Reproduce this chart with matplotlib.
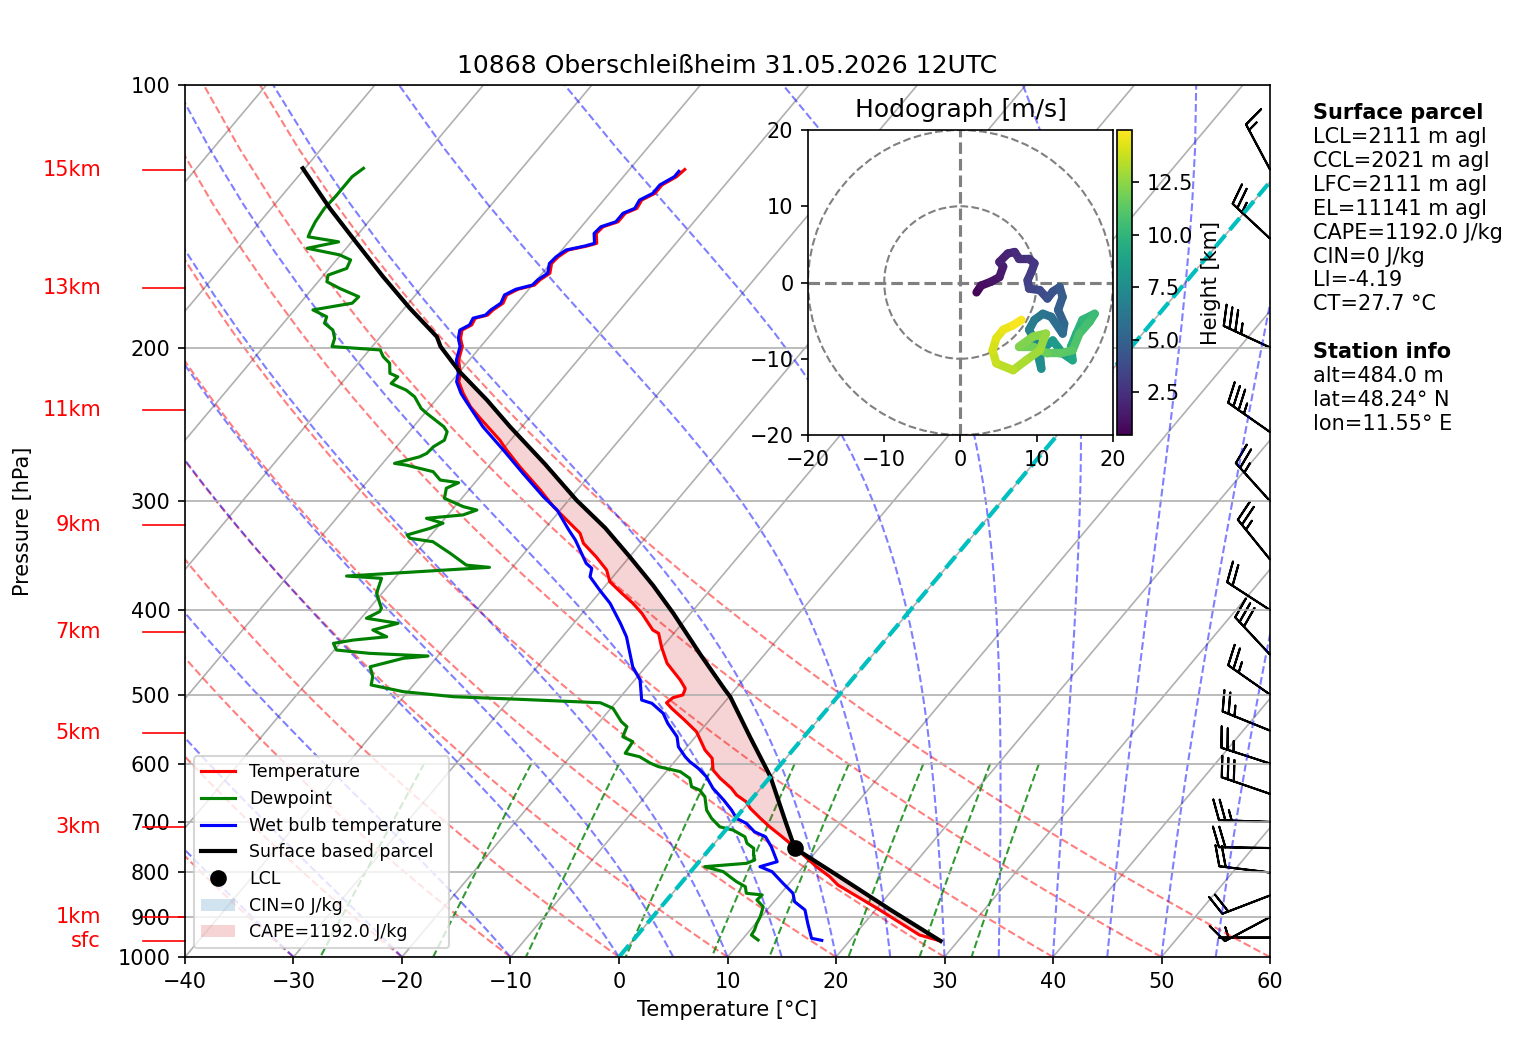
import numpy as np
import matplotlib
matplotlib.use("Agg")
import matplotlib.pyplot as plt
from matplotlib.transforms import Affine2D, blended_transform_factory
from matplotlib.ticker import MultipleLocator, ScalarFormatter, NullLocator
from matplotlib.collections import LineCollection
from matplotlib.patches import Patch, Circle

# sounding, surface -> top (hPa, degC)
temp_p = [958.6, 943.6, 883.2, 826.8, 808.9, 787.8, 763.9, 744.1, 724.7, 709.0,
          693.4, 675.4, 663.7, 652.0, 640.5, 623.9, 610.4, 591.7, 578.9, 563.8,
          551.6, 534.9, 518.6, 511.0, 504.2, 500.6, 494.0, 491.9, 481.2, 460.5,
          440.8, 425.5, 421.7, 403.5, 393.0, 382.7, 371.2, 359.9, 347.5, 335.4,
          326.6, 318.1, 304.5, 291.4, 274.0, 262.2, 255.4, 241.1, 233.8, 225.7,
          218.9, 214.1, 206.7, 199.5, 195.2, 191.0, 188.4, 185.1, 183.6, 181.1,
          177.9, 174.1, 171.5, 169.6, 167.3, 164.4, 160.2, 157.4, 154.6, 153.0,
          151.9, 148.0, 145.4, 143.5, 140.3, 138.5, 135.5, 133.1, 130.2, 127.4, 125.0]
temp_t = [28.4, 26.0, 20.4, 14.6, 13.2, 11.2, 9.1, 7.3, 5.4, 3.8,
          2.3, 0.6, -0.3, -1.7, -2.7, -4.5, -5.8, -6.8, -8.1, -9.3,
          -10.3, -12.3, -14.4, -15.3, -15.1, -14.4, -14.6, -14.7, -15.8, -18.3,
          -20.1, -21.4, -22.2, -24.5, -26.1, -27.9, -29.9, -31.1, -33.1, -35.3,
          -36.4, -38.1, -40.9, -43.4, -47.1, -49.6, -51.0, -54.5, -56.3, -58.0,
          -59.3, -59.8, -61.0, -61.7, -62.5, -63.0, -62.5, -62.7, -61.8, -61.7,
          -61.3, -61.6, -61.0, -59.8, -59.7, -59.3, -59.9, -59.8, -59.4, -58.0,
          -57.3, -58.1, -58.0, -57.0, -57.0, -56.3, -56.5, -55.8, -55.8, -55.1, -54.9]

dewp_p = [956.1, 943.6, 931.2, 915.2, 899.1, 875.7, 860.3, 848.9, 845.1, 830.5,
          819.6, 808.9, 798.2, 787.8, 780.8, 774.0, 763.9, 750.5, 740.7, 728.0,
          715.3, 709.0, 693.4, 678.4, 654.8, 643.4, 637.8, 623.9, 613.0, 604.9,
          599.5, 589.3, 583.9, 566.3, 559.0, 544.3, 537.2, 518.6, 511.0, 506.4,
          502.9, 496.3, 487.6, 477.0, 464.7, 454.4, 451.7, 448.5, 444.6, 436.8,
          433.0, 429.3, 421.7, 414.3, 408.8, 401.7, 398.1, 382.7, 367.9, 365.7,
          357.4, 355.3, 344.4, 334.0, 331.0, 328.1, 322.4, 318.1, 314.0, 311.2,
          307.2, 304.5, 297.8, 290.0, 285.8, 283.8, 277.6, 272.8, 271.6, 266.9,
          264.5, 259.9, 255.4, 249.8, 246.5, 238.0, 234.9, 227.8, 223.8, 219.9,
          216.1, 214.1, 208.5, 204.9, 201.3, 199.5, 195.2, 191.0, 187.6, 184.4,
          181.1, 177.9, 174.9, 171.1, 168.1, 165.2, 162.3, 158.7, 156.6, 153.9,
          151.3, 149.3, 147.3, 143.5, 138.5, 134.3, 130.8, 127.4, 124.6]
dewp_t = [11.5, 10.5, 10.4, 10.1, 9.9, 9.4, 8.3, 8.4, 6.8, 6.2,
          5.0, 4.0, 3.0, 0.9, 4.5, 5.0, 4.5, 4.0, 3.0, 2.3,
          0.7, -0.8, -2.2, -3.3, -4.5, -5.5, -6.5, -7.3, -8.7, -11.1,
          -12.1, -13.6, -15.2, -15.4, -16.7, -17.1, -18.0, -19.8, -21.4, -29.1,
          -35.4, -40.4, -43.9, -44.4, -45.4, -43.0, -40.9, -46.5, -49.8, -50.6,
          -49.0, -46.2, -48.0, -46.2, -49.5, -48.8, -48.9, -50.5, -51.2, -54.6,
          -42.1, -44.4, -46.8, -49.3, -51.7, -52.2, -50.6, -49.8, -51.7, -48.6,
          -47.7, -49.2, -51.6, -52.2, -51.5, -53.4, -54.7, -57.7, -58.9, -57.1,
          -56.7, -56.6, -56.1, -56.5, -57.2, -59.8, -60.7, -62.2, -63.5, -65.4,
          -65.3, -66.3, -67.1, -68.2, -69.0, -73.7, -74.1, -74.9, -76.2, -76.5,
          -78.3, -75.2, -75.1, -77.5, -79.2, -79.6, -78.4, -78.7, -80.1, -83.6,
          -81.2, -84.4, -84.6, -84.9, -85.1, -85.0, -85.0, -85.0, -84.6]

wetb_p = [957.0, 951.8, 915.2, 883.2, 864.1, 845.1, 823.0, 798.2, 787.8, 777.5,
          747.3, 728.0, 718.5, 702.7, 693.4, 678.4, 660.7, 640.5, 621.2, 607.6,
          597.0, 589.3, 574.0, 559.0, 539.5, 525.4, 511.8, 507.4, 481.2, 464.7,
          448.5, 429.3, 414.3, 393.0, 379.4, 366.4, 358.3, 353.6, 332.5, 323.7,
          307.2, 296.6, 278.8, 262.2, 246.5, 229.7, 225.7, 218.9, 214.1, 206.7,
          199.5, 195.2, 191.0, 188.4, 185.1, 183.6, 181.1, 177.9, 174.1, 171.5,
          169.6, 167.3, 164.4, 160.2, 157.4, 154.6, 153.0, 151.9, 148.0, 145.4,
          143.5, 140.3, 138.5, 135.5, 133.1, 130.2, 127.4, 125.6]
wetb_t = [17.4, 16.3, 14.8, 13.5, 11.9, 11.1, 9.4, 7.5, 6.0, 7.2,
          5.5, 4.2, 2.8, 1.4, 0.1, -1.0, -2.5, -4.4, -5.9, -7.3,
          -8.6, -9.4, -10.8, -11.7, -13.6, -14.8, -16.6, -17.8, -19.5, -21.2,
          -22.5, -24.1, -25.7, -28.2, -30.2, -32.1, -32.6, -33.5, -36.3, -37.7,
          -40.3, -42.6, -46.3, -49.9, -53.6, -57.3, -58.2, -59.5, -60.0, -61.2,
          -61.9, -62.7, -63.2, -62.7, -62.9, -62.0, -61.9, -61.5, -61.8, -61.2,
          -60.0, -59.9, -59.5, -60.1, -60.0, -59.6, -58.2, -57.5, -58.3, -58.2,
          -57.2, -57.2, -56.5, -56.7, -56.0, -56.0, -55.3, -55.3]

parcel_p = [958.6, 883.2, 808.9, 750.5, 700.0, 621.2, 560.0, 502.9, 494.0, 450.0,
            403.5, 375.0, 347.5, 322.0, 299.2, 272.0, 246.5, 229.7, 213.2, 199.5,
            194.4, 180.3, 165.9, 151.9, 138.5, 124.6]
parcel_t = [28.4, 21.4, 14.1, 7.8, 4.9, -0.0, -4.9, -9.9, -10.9, -15.9,
            -21.6, -25.6, -30.0, -34.5, -39.3, -45.0, -51.1, -55.3, -60.0, -63.7,
            -64.8, -69.5, -74.4, -79.4, -84.6, -90.2]
lcl_p, lcl_t = 750.5, 7.8
el_p = 213.2

# wind barbs (hPa, kt, deg)
barb_p = [950, 900, 850, 800, 750, 700, 650, 600, 550, 500, 450, 400, 350, 300, 250, 200, 150, 125]
barb_spd = [5, 10, 20, 20, 20, 25, 30, 25, 25, 25, 30, 20, 25, 25, 35, 35, 25, 15]
barb_dir = [270, 242, 249, 277, 271, 272, 289, 288, 292, 305, 317, 303, 321, 318, 305, 295, 313, 332]

# hodograph (m/s) and height (km)
hodo_u = [2.1, 2.7, 4.0, 5.1, 5.6, 5.1, 6.2, 7.1, 7.7, 9.0, 9.7, 9.3, 8.8, 9.0,
          10.4, 11.4, 12.1, 13.0, 13.4, 12.8, 13.6, 13.4, 11.9, 10.8, 9.7, 9.0,
          9.7, 10.4, 10.6, 10.1, 12.1, 13.4, 14.7, 14.5, 15.2, 16.0, 17.6, 16.9,
          15.6, 14.7, 13.0, 11.4, 9.5, 7.7, 9.5, 11.2, 10.4, 8.6, 6.9, 4.7, 4.2,
          4.7, 5.6, 6.9, 8.0]
hodo_v = [-1.3, -0.4, 0.1, 0.7, 2.1, 2.7, 3.8, 4.0, 3.1, 3.1, 2.5, 1.4, 0.3, -0.8,
          -1.0, -2.1, -1.2, -0.6, -1.9, -3.6, -5.4, -6.7, -4.5, -4.1, -4.9, -6.2,
          -7.6, -9.3, -11.3, -9.3, -7.6, -9.3, -10.2, -8.4, -6.7, -4.9, -4.1, -5.2,
          -6.7, -8.9, -9.3, -9.3, -8.4, -8.4, -7.1, -6.7, -8.9, -10.2, -11.5, -10.6,
          -8.9, -7.3, -6.2, -5.6, -4.9]
hodo_z = [0.5, 0.8, 1.1, 1.3, 1.5, 1.7, 1.9, 2.1, 2.3, 2.5, 2.7, 2.9, 3.1, 3.3,
          3.6, 3.9, 4.1, 4.3, 4.6, 4.9, 5.2, 5.5, 5.8, 6.0, 6.3, 6.6, 6.9, 7.2,
          7.5, 7.8, 8.2, 8.6, 9.0, 9.3, 9.6, 9.9, 10.2, 10.5, 10.8, 11.1, 11.3,
          11.5, 11.8, 12.0, 12.3, 12.5, 12.8, 13.0, 13.3, 13.6, 13.9, 14.2, 14.4,
          14.7, 14.97]

height_labels = ['sfc', '1km', '3km', '5km', '7km', '9km', '11km', '13km', '15km']
height_p = [958.6, 899.8, 709.3, 553.5, 423.9, 319.6, 235.9, 171.0, 125.2]

parcel_info = ['LCL=2111 m agl', 'CCL=2021 m agl', 'LFC=2111 m agl', 'EL=11141 m agl',
               'CAPE=1192.0 J/kg', 'CIN=0 J/kg', 'LI=-4.19', 'CT=27.7 °C']
station_info = ['alt=484.0 m', 'lat=48.24° N', 'lon=11.55° E']

# background line sets
dry_t0 = np.arange(-40, 61, 10)
moist_t0 = [-40, -30, -20, -10] + list(range(0, 61, 5))
mix_ratios = [0.0004, 0.001, 0.002, 0.004, 0.007, 0.01, 0.016, 0.024, 0.032]
isotherms = np.arange(-120, 61, 10)
SKEW = 0.675


def moist_adiabats(t0_c, pres):
    rd, cp, lv, eps = 287.04749, 1004.6662, 2.50084e6, 0.6219569

    def dtdp(p, t):
        es = 6.112 * np.exp(17.67 * (t - 273.15) / (t - 29.65))
        rs = eps * es / (p - es)
        return (rd * t + lv * rs) / (cp + lv * lv * rs * eps / (rd * t * t)) / p

    t = np.asarray(t0_c, float) + 273.15
    out = [t.copy()]
    for p0, p1 in zip(pres[:-1], pres[1:]):
        n = 10
        h = (p1 - p0) / n
        pp = p0
        for _ in range(n):
            k1 = dtdp(pp, t)
            k2 = dtdp(pp + h / 2, t + h / 2 * k1)
            k3 = dtdp(pp + h / 2, t + h / 2 * k2)
            k4 = dtdp(pp + h, t + h * k3)
            t = t + h / 6 * (k1 + 2 * k2 + 2 * k3 + k4)
            pp += h
        out.append(t.copy())
    return np.array(out) - 273.15


fig = plt.figure(figsize=(1517 / 150, 1042 / 150), dpi=150)
ax = fig.add_axes([0.12195, 0.08157, 0.71523, 0.83685])
ax.set_yscale('log')
ax.set_xlim(-40, 60)
ax.set_ylim(1000, 100)
ax.autoscale(False)
ax.yaxis.set_major_locator(MultipleLocator(100))
ax.yaxis.set_major_formatter(ScalarFormatter())
ax.yaxis.set_minor_locator(NullLocator())
ax.xaxis.set_major_locator(MultipleLocator(10))
ax.yaxis.grid(True)

skew = (ax.transScale + ax.transLimits
        + Affine2D(np.array([[1.0, SKEW, 0.0], [0.0, 1.0, 0.0], [0.0, 0.0, 1.0]]))
        + ax.transAxes)

for t in isotherms:
    ax.plot([t, t], [1000, 100], transform=skew, color='#b0b0b0', lw=0.8, zorder=1)

p_bg = np.linspace(1000, 100, 50)
for t0 in dry_t0:
    ax.plot((t0 + 273.15) * (p_bg / 1000) ** 0.28571 - 273.15, p_bg, transform=skew,
            color='r', ls='--', alpha=0.5, lw=1, zorder=1.1)
moist = moist_adiabats(moist_t0, p_bg)
for i in range(len(moist_t0)):
    ax.plot(moist[:, i], p_bg, transform=skew, color='b', ls='--', alpha=0.5, lw=1, zorder=1.1)
p_mix = np.linspace(600, 1000, 50)
for w in mix_ratios:
    e = p_mix * w / (0.6219569 + w)
    le = np.log(e / 6.112)
    ax.plot(243.5 * le / (17.67 - le), p_mix, transform=skew, color='g', ls='--',
            alpha=0.8, lw=1, zorder=1.1)

# CAPE area between parcel and environment
pp = np.array(parcel_p)
tp = np.array(temp_p)
cape_x = list(np.array(parcel_t)[pp >= el_p]) + list(np.array(temp_t)[tp >= el_p][::-1])
cape_y = list(pp[pp >= el_p]) + list(tp[tp >= el_p][::-1])
cape = ax.fill(cape_x, cape_y, transform=skew, facecolor='tab:red', alpha=0.2,
               zorder=1.2, label='CAPE=1192.0 J/kg')[0]

l_t, = ax.plot(temp_t, temp_p, 'r', transform=skew, label='Temperature')
l_d, = ax.plot(dewp_t, dewp_p, 'g', transform=skew, label='Dewpoint')
l_w, = ax.plot(wetb_t, wetb_p, 'b', transform=skew, label='Wet bulb temperature')
l_p, = ax.plot(parcel_t, parcel_p, 'k', lw=2, transform=skew, label='Surface based parcel')
l_l, = ax.plot([lcl_t], [lcl_p], 'ko', ms=7, transform=skew, label='LCL')
ax.plot([0, 0], [1000, 100], transform=skew, color='c', ls='--', lw=2)

cin = Patch(facecolor='tab:blue', alpha=0.2, label='CIN=0 J/kg')
ax.legend(handles=[l_t, l_d, l_w, l_p, l_l, cin, cape], loc='lower left', fontsize='small')

# height markers on the left
side = blended_transform_factory(ax.transAxes, ax.transData)
for lab, p in zip(height_labels, height_p):
    ax.plot([-0.0387, 0], [p, p], color='red', lw=0.8, transform=side, clip_on=False)
    ax.text(-0.0774, p, lab, color='red', ha='right', va='center', transform=side)

# wind barbs at the right edge
rad = np.deg2rad(barb_dir)
bu = -np.array(barb_spd) * np.sin(rad)
bv = -np.array(barb_spd) * np.cos(rad)
ax.barbs(np.ones(len(barb_p)), barb_p, bu, bv, transform=side, clip_on=False)

ax.set_xlabel('Temperature [°C]')
ax.set_ylabel('Pressure [hPa]')
ax.yaxis.set_label_coords(-0.14, 0.5)
ax.set_title('10868 Oberschleißheim 31.05.2026 12UTC')

# hodograph inset
hax = fig.add_axes([0.53263, 0.58253, 0.20105, 0.29271])
hax.set_xlim(-20, 20)
hax.set_ylim(-20, 20)
hax.set_xticks([-20, -10, 0, 10, 20])
hax.set_yticks([-20, -10, 0, 10, 20])
for r in (10, 20):
    hax.add_patch(Circle((0, 0), r, fill=False, ls='--', color='grey'))
hax.axhline(0, color='grey', ls='--')
hax.axvline(0, color='grey', ls='--')
pts = np.column_stack([hodo_u, hodo_v]).reshape(-1, 1, 2)
segs = np.concatenate([pts[:-1], pts[1:]], axis=1)
zc = np.array(hodo_z)
lc = LineCollection(segs, cmap='viridis', linewidths=4, capstyle='round')
lc.set_array(0.5 * (zc[:-1] + zc[1:]))
lc.set_clim(0.48, max(hodo_z))
hax.add_collection(lc)
hax.set_title('Hodograph [m/s]')
cax = fig.add_axes([0.73632, 0.58253, 0.00989, 0.29271])
fig.colorbar(lc, cax=cax, label='Height [km]')

# info text
x_txt = 1313 / 1517
fig.text(x_txt, 1 - 113 / 1042, 'Surface parcel', weight='bold', va='center')
for i, s in enumerate(parcel_info):
    fig.text(x_txt, 1 - (113 + 23.92 * (i + 1)) / 1042, s, va='center')
fig.text(x_txt, 1 - (113 + 23.92 * 10) / 1042, 'Station info', weight='bold', va='center')
for i, s in enumerate(station_info):
    fig.text(x_txt, 1 - (113 + 23.92 * (i + 11)) / 1042, s, va='center')

fig.savefig('out.png', dpi=150)
